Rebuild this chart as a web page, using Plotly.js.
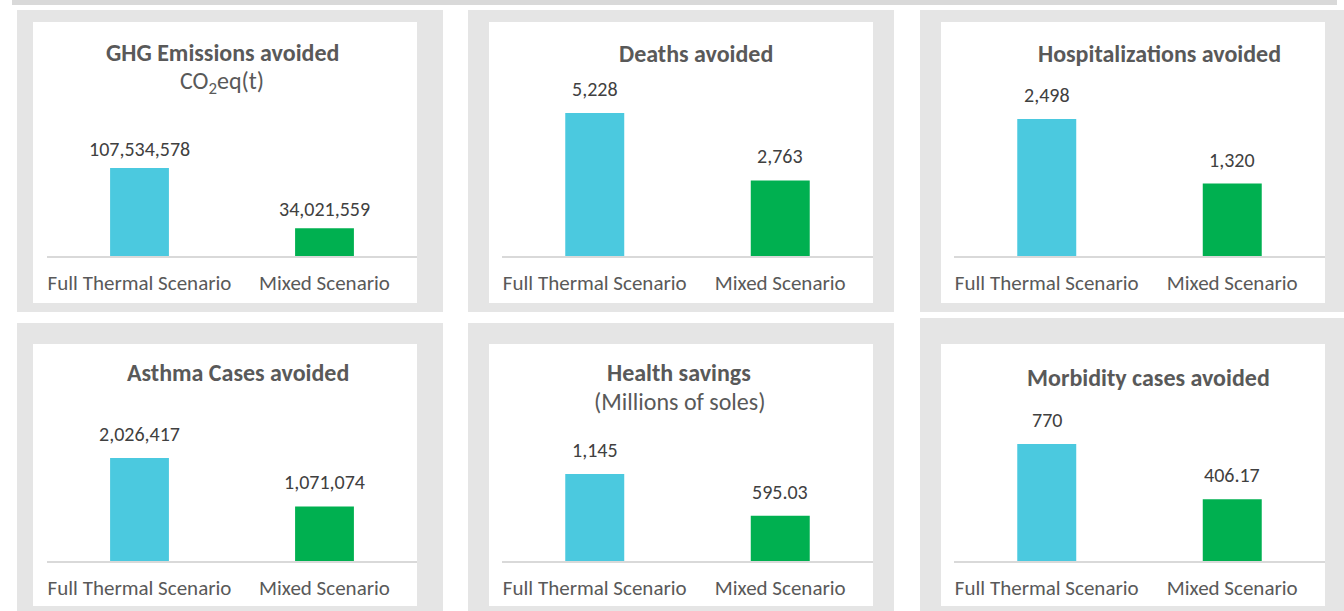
<!DOCTYPE html>
<html>
<head>
<meta charset="utf-8">
<script src="https://cdn.plot.ly/plotly-3.0.1.min.js"></script>
<style>
html,body{margin:0;padding:0;background:#ffffff;}
#chart{width:1344px;height:611px;}
</style>
</head>
<body>
<div id="chart"></div>
<script>
// ---------- DATA ----------
const categories = ["Full Thermal Scenario", "Mixed Scenario"];
const chartTitles = ["GHG Emissions avoided", "Deaths avoided", "Hospitalizations avoided",
                     "Asthma Cases avoided", "Health savings", "Morbidity cases avoided"];
const chartSubtitles = ["CO<sub>2</sub>eq(t)", "", "", "", "(Millions of soles)", ""];
const fullThermal = [107534578, 5228, 2498, 2026417, 1145, 770];
const mixed = [34021559, 2763, 1320, 1071074, 595.03, 406.17];

// ---------- STYLE / GEOMETRY (pixels) ----------
const W = 1344, H = 611;
const FONT = "Carlito, Calibri, Lato, sans-serif";
const barColors = ["#4BC9DF", "#00B050"];
const frameColor = "#e5e5e5";
const frames = [[17,10,443,312],[468,10,894,312],[920,10,1350,312],
                [17,323,443,620],[468,323,894,620],[920,318,1350,620]];
const inners = [[33,22,417,303],[489,22,873,303],[941,22,1325,303],
                [33,344,417,606],[489,344,873,606],[941,344,1325,606]];
const plotBoxes = [
  {l:47,  r:417,  b:256, t:138, max:144.2e6},
  {l:502, r:873,  b:256, t:83,  max:6325},
  {l:954, r:1325, b:256, t:89,  max:3045},
  {l:47,  r:417,  b:561, t:428, max:2616633},
  {l:502, r:873,  b:561, t:444, max:1540},
  {l:954, r:1325, b:561, t:414, max:967.4}
];
const titlePos = [[222,53],[695.5,53.5],[1159.5,53.5],[238,372.5],[679.5,372.5],[1148.5,377.5]];
const subtitlePos = [[222,82],null,null,null,[679.5,401.5],null];
const labelGap = [19.5, 24, 23.5, 24.5, 24, 24];

const px = v => v / W;
const py = v => 1 - v / H;

const traces = [];
const annotations = [];
const shapes = [];
const layout = {
  width: W, height: H,
  margin: {l:0, r:0, t:0, b:0},
  paper_bgcolor: "#ffffff",
  plot_bgcolor: "rgba(0,0,0,0)",
  showlegend: false,
  font: {family: FONT, color: "#595959"},
  hovermode: false
};

// top strip
shapes.push({type:"rect", xref:"paper", yref:"paper", layer:"below",
  x0: px(12), x1: px(1337), y0: py(0), y1: py(5), line:{width:0}, fillcolor:"#d9d9d9"});

const fmt = v => v.toLocaleString("en-US", {maximumFractionDigits: 2});

for (let i = 0; i < 6; i++) {
  const f = frames[i], n = inners[i], p = plotBoxes[i];
  shapes.push({type:"rect", xref:"paper", yref:"paper", layer:"below",
    x0: px(f[0]), x1: px(f[2]), y0: py(f[3]), y1: py(f[1]), line:{width:0}, fillcolor: frameColor});
  shapes.push({type:"rect", xref:"paper", yref:"paper", layer:"below",
    x0: px(n[0]), x1: px(n[2]), y0: py(n[3]), y1: py(n[1]), line:{width:0}, fillcolor: "#ffffff"});

  const xa = "x" + (i + 1), ya = "y" + (i + 1);
  const xk = "xaxis" + (i === 0 ? "" : i + 1), yk = "yaxis" + (i === 0 ? "" : i + 1);
  const vals = [fullThermal[i], mixed[i]];

  traces.push({
    type: "bar", x: categories, y: vals, xaxis: xa, yaxis: ya,
    width: 0.318, marker: {color: barColors, line: {width: 0}},
    hoverinfo: "none", cliponaxis: false
  });

  layout[xk] = {
    domain: [px(p.l), px(p.r)], anchor: ya, type: "category",
    showgrid: false, zeroline: false, showline: true, linecolor: "#d9d9d9", linewidth: 1.5,
    ticks: "", ticklabelstandoff: 7,
    tickfont: {family: FONT, size: 21, color: "#595959"}, fixedrange: true
  };
  layout[yk] = {
    domain: [py(p.b), py(p.t)], anchor: xa, range: [0, p.max],
    visible: false, showgrid: false, zeroline: false, fixedrange: true
  };

  categories.forEach((c, j) => {
    annotations.push({
      xref: xa, yref: ya, x: c, y: vals[j], text: fmt(vals[j]),
      showarrow: false, yanchor: "middle", xanchor: "center", yshift: labelGap[i],
      font: {family: FONT, size: 20, color: "#404040"}
    });
  });

  annotations.push({
    xref: "paper", yref: "paper", x: px(titlePos[i][0]), y: py(titlePos[i][1]),
    xanchor: "center", yanchor: "middle", showarrow: false,
    text: "<b>" + chartTitles[i] + "</b>",
    font: {family: FONT, size: 24, color: "#595959"}
  });
  if (subtitlePos[i]) {
    annotations.push({
      xref: "paper", yref: "paper", x: px(subtitlePos[i][0]), y: py(subtitlePos[i][1]),
      xanchor: "center", yanchor: "middle", showarrow: false,
      text: chartSubtitles[i],
      font: {family: FONT, size: 24, color: "#595959"}
    });
  }
}

layout.shapes = shapes;
layout.annotations = annotations;

Plotly.newPlot("chart", traces, layout, {displayModeBar: false, staticPlot: true});
</script>
</body>
</html>
